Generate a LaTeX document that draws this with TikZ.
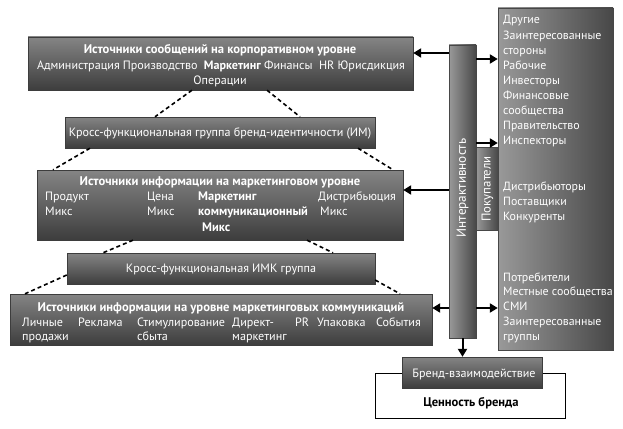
\documentclass[tikz,border=0pt]{standalone}
\usepackage{fontspec}
\setmainfont{PT Sans}
\usetikzlibrary{arrows.meta}
\definecolor{bxtop}{gray}{0.52}
\definecolor{bxbot}{gray}{0.24}
\definecolor{bxlight}{gray}{0.60}
\definecolor{bxdark}{gray}{0.28}
\begin{document}
\begin{tikzpicture}[x=1pt,y=-1pt,
  box/.style={rectangle, inner sep=0pt, top color=bxtop, bottom color=bxbot, draw=bxbot, line width=0.4pt},
  hbox/.style={rectangle, inner sep=0pt, left color=bxlight, right color=bxdark, draw=bxdark, line width=0.4pt},
  txt/.style={text=white, font=\fontsize{12.1}{14}\selectfont, inner sep=0pt, anchor=base west},
  rtxt/.style={txt, font=\fontsize{11.9}{14}\selectfont},
  ctxt/.style={txt, anchor=base},
  btxt/.style={ctxt, font=\fontsize{12.6}{14}\selectfont\bfseries},
  bltxt/.style={txt, font=\fontsize{12.4}{14}\selectfont\bfseries},
  arr/.style={line width=2pt, -{Triangle[length=8pt,width=9pt]}},
  dsh/.style={line width=1.6pt, dash pattern=on 4pt off 3pt}
]
\useasboundingbox (0,0) rectangle (623,428);

% right column and bars
\node[hbox, minimum width=115, minimum height=342] (right) at (555.5,179) {};
\node[hbox, minimum width=22, minimum height=83] (buy) at (487,188.5) {};
\node[hbox, minimum width=27, minimum height=293] (bar) at (462.5,191.5) {};
\node[text=white, font=\fontsize{13.2}{14}\selectfont, rotate=90, inner sep=0pt] (inter) at (462.5,188) {Интерактивность};
\node[text=white, font=\fontsize{12.8}{14}\selectfont, rotate=90, inner sep=0pt] (buyt) at (487.5,189) {Покупатели};

% left boxes
\node[box, minimum width=385, minimum height=53] (corp) at (220.5,63.5) {};
\node[box, minimum width=310, minimum height=31] (im) at (220,132.5) {};
\node[box, minimum width=366, minimum height=70] (mkt) at (220,205) {};
\node[box, minimum width=308, minimum height=31] (imk) at (221,268.5) {};
\node[box, minimum width=422, minimum height=51] (mc) at (221,319.5) {};

% value box and brand interaction
\node[draw=black, line width=0.8pt, fill=white, minimum width=190, minimum height=45, inner sep=0pt] (value) at (470,395.5) {};
\node[box, minimum width=140, minimum height=31] (brand) at (472,372.5) {};

% texts box 1
\node[btxt] (t1a) at (220,54) {Источники сообщений на корпоративном уровне};
\node[ctxt] (t1b) at (221,69) {Администрация Производство\ \ \textbf{Маркетинг} Финансы\ \ HR Юрисдикция};
\node[ctxt] (t1c) at (220,84) {Операции};
% box 2
\node[ctxt] (t2) at (220,136) {Кросс-функциональная группа бренд-идентичности (ИМ)};
% box 3
\node[btxt] (t3a) at (220,185) {Источники информации на маркетинговом уровне};
\node[txt] (t3b) at (45,200) {Продукт};
\node[txt] (t3c) at (45,215) {Микс};
\node[txt] (t3d) at (147,200) {Цена};
\node[txt] (t3e) at (147,215) {Микс};
\node[bltxt] (t3f) at (198,200) {Маркетинг};
\node[bltxt] (t3g) at (198,215) {коммуникационный};
\node[bltxt] (t3h) at (202,231) {Микс};
\node[txt] (t3i) at (318,200) {Дистрибьюция};
\node[txt] (t3j) at (320,215) {Микс};
% box 4
\node[ctxt] (t4) at (221,272) {Кросс-функциональная ИМК группа};
% box 5
\node[btxt] (t5a) at (221,311) {Источники информации на уровне маркетинговых коммуникаций};
\node[txt] (t5b) at (22,326) {Личные};
\node[txt] (t5c) at (22,340) {продажи};
\node[txt] (t5d) at (78,326) {Реклама};
\node[txt] (t5e) at (137,326) {Стимулирование};
\node[txt] (t5f) at (137,340) {сбыта};
\node[txt] (t5g) at (232,326) {Директ-};
\node[txt] (t5h) at (232,340) {маркетинг};
\node[txt] (t5i) at (295,326) {PR};
\node[txt] (t5j) at (317,326) {Упаковка};
\node[txt] (t5k) at (376,326) {События};
% brand
\node[ctxt] (tb) at (474,377) {Бренд-взаимодействие};
\node[btxt, text=black] (tv) at (471,406) {Ценность бренда};

% right column texts
\foreach \t [count=\i] in {Другие,Заинтересованные,стороны,Рабочие,Инвесторы,Финансовые,сообщества,Правительство,Инспекторы}
  \node[rtxt] (ra\i) at (503,{24+15.1*(\i-1)}) {\t};
\foreach \t [count=\i] in {Дистрибьюторы,Поставщики,Конкуренты}
  \node[rtxt] (rb\i) at (503,{190+15*(\i-1)}) {\t};
\foreach \t [count=\i] in {Потребители,Местные сообщества,СМИ,Заинтересованные,группы}
  \node[rtxt] (rc\i) at (503,{281+14.8*(\i-1)}) {\t};

% dashed connectors
\draw[dsh] (192,0 |- corp.south) -- (155,0 |- im.north);
\draw[dsh] (267,0 |- corp.south) -- (300,0 |- im.north);
\draw[dsh] (90,0 |- im.south) -- (53,0 |- mkt.north);
\draw[dsh] (358,0 |- im.south) -- (393,0 |- mkt.north);
\draw[dsh] (133,0 |- mkt.south) -- (103,0 |- imk.north);
\draw[dsh] (307,0 |- mkt.south) -- (333,0 |- imk.north);
\draw[dsh] (imk.west |- 0,275) -- (25,0 |- mc.north);
\draw[dsh] (imk.east |- 0,280) -- (400,0 |- mc.north);

% arrows
\draw[arr] (bar.west |- 0,53) -- (corp.east |- 0,53);
\draw[arr] (bar.east |- 0,59) -- (right.west |- 0,59);
\draw[arr] (bar.east |- 0,143) -- (right.west |- 0,143);
\draw[arr] (bar.west |- 0,190) -- (mkt.east |- 0,190);
\draw[arr] (bar.west |- 0,308) -- (mc.east |- 0,308);
\draw[arr] (bar.east |- 0,308) -- (right.west |- 0,308);
\draw[arr] (bar.south) -- (bar.south |- brand.north);
\end{tikzpicture}
\end{document}
